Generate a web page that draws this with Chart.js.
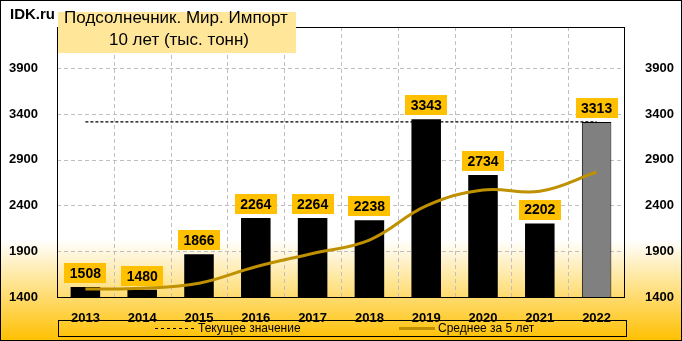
<!DOCTYPE html>
<html>
<head>
<meta charset="utf-8">
<script src="https://cdn.jsdelivr.net/npm/chart.js@4.4.1/dist/chart.umd.min.js"></script>
<style>
  html, body { margin: 0; padding: 0; background: #fff; }
  #wrap { width: 682px; height: 341px; position: relative; }
</style>
</head>
<body>
<div id="wrap"><canvas id="importChart" width="682" height="341"></canvas></div>
<script>
// data
const years = ['2013', '2014', '2015', '2016', '2017', '2018', '2019', '2020', '2021', '2022'];
const importValues = [1508, 1480, 1866, 2264, 2264, 2238, 3343, 2734, 2202, 3313];
const avg5Values = [1487, 1495, 1550, 1731, 1876, 2022, 2395, 2569, 2556, 2766];
const currentValue = 3313;
const yTicks = [1400, 1900, 2400, 2900, 3400, 3900];

const barColors = importValues.map((v, i) => i === importValues.length - 1 ? '#808080' : '#000000');
const barBorders = importValues.map((v, i) => i === importValues.length - 1 ? 1 : 0);

// background gradient + outer frame
const backgroundPlugin = {
    id: 'bgFill',
    beforeDraw(chart) {
        const ctx = chart.ctx;
        const w = chart.width, h = chart.height;
        ctx.save();
        ctx.fillStyle = '#ffffff';
        ctx.fillRect(0, 0, w, h);
        const grad = ctx.createLinearGradient(0, 240, 0, h);
        grad.addColorStop(0, '#ffffff');
        grad.addColorStop(1, '#FFC000');
        ctx.fillStyle = grad;
        ctx.fillRect(0, 240, w, h - 240);
        ctx.restore();
    },
    afterDraw(chart) {
        const ctx = chart.ctx;
        ctx.save();
        ctx.strokeStyle = '#000';
        ctx.lineWidth = 1;
        ctx.strokeRect(0.5, 0.5, chart.width - 1, chart.height - 1);
        ctx.restore();
    }
};

// dashed grid, drawn from the scales
const gridPlugin = {
    id: 'dashGrid',
    beforeDatasetsDraw(chart) {
        const a = chart.chartArea;
        const ctx = chart.ctx;
        const xs = chart.scales.x, ys = chart.scales.y;
        ctx.save();
        ctx.strokeStyle = '#BFBFBF';
        ctx.lineWidth = 1;
        ctx.setLineDash([4, 3]);
        yTicks.forEach(v => {
            const y = Math.round(ys.getPixelForValue(v)) + 0.5;
            ctx.beginPath();
            ctx.moveTo(a.left, y);
            ctx.lineTo(a.right, y);
            ctx.stroke();
        });
        for (let i = 1; i < years.length; i++) {
            const x = Math.round((xs.getPixelForValue(i - 1) + xs.getPixelForValue(i)) / 2) + 0.5;
            ctx.beginPath();
            ctx.moveTo(x, a.top);
            ctx.lineTo(x, a.bottom);
            ctx.stroke();
        }
        ctx.restore();
    }
};

// plot area border
const framePlugin = {
    id: 'plotFrame',
    afterDatasetsDraw(chart) {
        const a = chart.chartArea;
        const ctx = chart.ctx;
        ctx.save();
        ctx.strokeStyle = '#000';
        ctx.lineWidth = 1;
        ctx.strokeRect(Math.round(a.left) + 0.5, Math.round(a.top) + 0.5,
            Math.round(a.right - a.left) - 1, Math.round(a.bottom - a.top));
        ctx.restore();
    }
};

// yellow value boxes above the bars
const valueBoxPlugin = {
    id: 'valueBoxes',
    afterDatasetsDraw(chart) {
        const ctx = chart.ctx;
        const meta = chart.getDatasetMeta(1);
        ctx.save();
        ctx.font = 'bold 14px "Liberation Sans", Arial, sans-serif';
        ctx.textAlign = 'center';
        ctx.textBaseline = 'middle';
        meta.data.forEach((bar, i) => {
            const bw = 42, bh = 20;
            const x = bar.x;
            const bottom = bar.y - 4;
            ctx.fillStyle = '#FFC000';
            ctx.fillRect(Math.round(x - bw / 2), Math.round(bottom - bh), bw, bh);
            ctx.fillStyle = '#000';
            ctx.fillText(String(importValues[i]), x, bottom - bh / 2 + 1);
        });
        ctx.restore();
    }
};

// title, site name and legend
const textPlugin = {
    id: 'titleLegend',
    afterDraw(chart) {
        const ctx = chart.ctx;
        ctx.save();
        ctx.fillStyle = '#FFE699';
        ctx.fillRect(58, 12, 238, 41);
        ctx.fillStyle = '#000';
        ctx.textAlign = 'center';
        ctx.textBaseline = 'middle';
        ctx.font = '17px "Liberation Sans", Arial, sans-serif';
        ctx.fillText('Подсолнечник. Мир. Импорт', 176, 18);
        ctx.fillText('10 лет (тыс. тонн)', 179, 40);
        ctx.textAlign = 'left';
        ctx.font = 'bold 15px "Liberation Sans", Arial, sans-serif';
        ctx.fillText('IDK.ru', 10, 15);

        // legend box
        ctx.strokeStyle = '#000';
        ctx.lineWidth = 1;
        ctx.strokeRect(58.5, 320.5, 568, 16);
        ctx.beginPath();
        ctx.setLineDash([3, 3]);
        ctx.moveTo(155, 328.5);
        ctx.lineTo(194, 328.5);
        ctx.stroke();
        ctx.setLineDash([]);
        ctx.strokeStyle = '#BF9000';
        ctx.lineWidth = 3;
        ctx.beginPath();
        ctx.moveTo(399, 328.5);
        ctx.lineTo(435, 328.5);
        ctx.stroke();
        ctx.font = '12px "Liberation Sans", Arial, sans-serif';
        ctx.fillStyle = '#000';
        ctx.fillText('Текущее значение', 198, 329);
        ctx.fillText('Среднее за 5 лет', 438, 329);
        ctx.restore();
    }
};

const tickFont = { family: '"Liberation Sans", Arial, sans-serif', size: 13, weight: 'bold' };
const plainTick = v => String(v);

const importCtx = document.getElementById('importChart').getContext('2d');

const importChart = new Chart(importCtx, {
    data: {
        labels: years,
        datasets: [
            {
                type: 'line',
                label: 'Среднее за 5 лет',
                data: avg5Values,
                borderColor: '#BF9000',
                borderWidth: 3,
                tension: 0.4,
                pointRadius: 0,
                fill: false,
                order: 1,
                yAxisID: 'y'
            },
            {
                type: 'bar',
                label: 'Импорт',
                data: importValues,
                backgroundColor: barColors,
                borderColor: '#000000',
                borderWidth: barBorders,
                barPercentage: 0.52,
                categoryPercentage: 1.0,
                order: 2,
                yAxisID: 'y'
            },
            {
                type: 'line',
                label: 'Текущее значение',
                data: years.map(() => currentValue),
                borderColor: '#000000',
                borderWidth: 1.2,
                borderDash: [3, 2],
                pointRadius: 0,
                fill: false,
                order: 3,
                yAxisID: 'y'
            }
        ]
    },
    options: {
        responsive: false,
        animation: false,
        layout: { padding: { top: 27, left: 0, right: 0, bottom: 0 } },
        plugins: {
            legend: { display: false },
            tooltip: { enabled: false }
        },
        scales: {
            x: {
                grid: { display: false },
                border: { display: false },
                ticks: {
                    font: { family: '"Liberation Sans Narrow", "Liberation Sans", Arial, sans-serif', size: 13, weight: 'bold' },
                    color: '#000',
                    padding: 6
                },
                afterFit(scale) { scale.height = 44; }
            },
            y: {
                position: 'left',
                min: 1400,
                max: 4350,
                afterBuildTicks(scale) { scale.ticks = yTicks.map(v => ({ value: v })); },
                grid: { display: false },
                border: { display: false },
                ticks: { font: tickFont, color: '#000', padding: 11, callback: plainTick },
                afterFit(scale) { scale.width = 57; }
            },
            y2: {
                position: 'right',
                min: 1400,
                max: 4350,
                afterBuildTicks(scale) { scale.ticks = yTicks.map(v => ({ value: v })); },
                grid: { display: false },
                border: { display: false },
                ticks: { font: tickFont, color: '#000', padding: 12, callback: plainTick },
                afterFit(scale) { scale.width = 57; }
            }
        }
    },
    plugins: [backgroundPlugin, gridPlugin, framePlugin, valueBoxPlugin, textPlugin]
});
</script>
</body>
</html>
